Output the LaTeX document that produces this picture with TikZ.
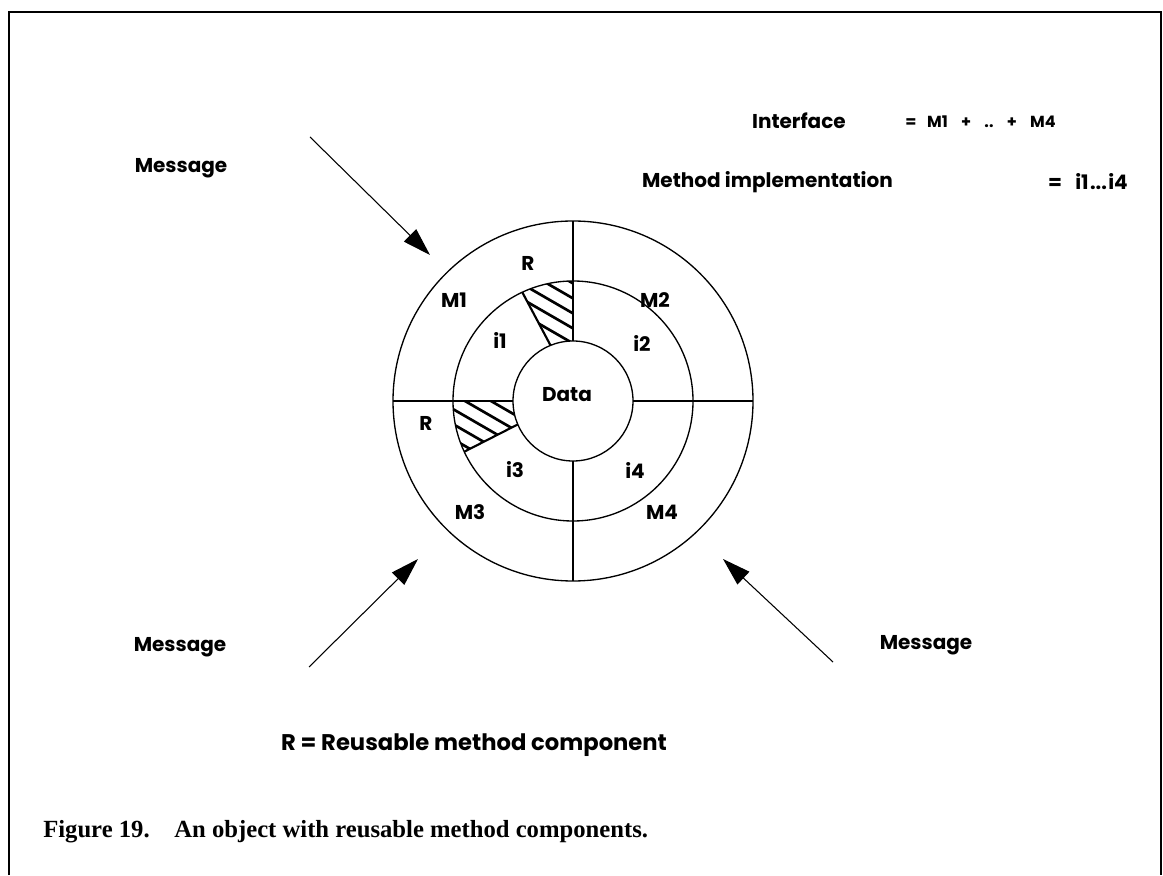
\documentclass[tikz,border=0pt]{standalone}
\usepackage{fontspec}
\setmainfont{Liberation Serif}
\newfontfamily\lbl{Poppins}
\usetikzlibrary{arrows.meta,calc}
\begin{document}
\begin{tikzpicture}[x=0.75pt,y=0.75pt,
  ring/.style={line width=1pt},
  hatch/.style={line width=2pt},
  msgarrow/.style={line width=0.8pt,-{Triangle[length=21pt,width=13pt]}},
  lab/.style={font=\lbl\bfseries\fontsize{15}{17}\selectfont, inner sep=0pt},
  small/.style={font=\lbl\bfseries\fontsize{12}{14}\selectfont, inner sep=0pt}]
\useasboundingbox (0,0) rectangle (1163,875);
% open frame
\draw[line width=2.2pt] (9,0) -- (9,863) -- (1161,863) -- (1161,0);

% centre of the object
\coordinate (c) at (573,474);

% hatched reusable components
\begin{scope}
  \clip (573,594) arc (90:115:120) -- ($(c)+(112:60)$) arc (112:90:60) -- cycle;
  \foreach \k in {-20,...,30}
    \draw[hatch] ({573-160},{474+\k*15}) -- ({573+160},{474+\k*15-184.8});
\end{scope}
\begin{scope}
  \clip (453,474) arc (180:205:120) -- ($(c)+(203:60)$) arc (203:180:60) -- cycle;
  \foreach \k in {-20,...,30}
    \draw[hatch] ({573-160},{474+\k*15}) -- ({573+160},{474+\k*15-184.8});
\end{scope}
\draw[line width=1.6pt] ($(c)+(115:120)$) -- ($(c)+(112:60)$);
\draw[line width=1.6pt] ($(c)+(205:120)$) -- ($(c)+(203:60)$);

% rings
\draw[ring] (c) circle (180);
\draw[ring] (c) circle (120);
\draw[ring] (c) circle (60);
% quadrant dividers
\draw[ring] (573,654) -- (573,534);
\draw[ring] (573,414) -- (573,294);
\draw[ring] (393,474) -- (513,474);
\draw[ring] (633,474) -- (753,474);

% ring labels
\node[lab] (data) at (567,480) {Data};
\node[lab] (r1) at (528,612) {R};
\node[lab] (m1) at (454,575) {M1};
\node[lab] (i1) at (500,535) {i1};
\node[lab] (m2) at (655,575) {M2};
\node[lab] (i2) at (642,532) {i2};
\node[lab] (r2) at (426,452) {R};
\node[lab] (i3) at (515,405) {i3};
\node[lab] (i4) at (635,405) {i4};
\node[lab] (m3) at (470,363) {M3};
\node[lab] (m4) at (662,363) {M4};

% messages
\node[lab] (msg1) at (181,707) {Message};
\node[lab] (msg2) at (180,228) {Message};
\node[lab] (msg3) at (926,230) {Message};
\coordinate (a1s) at (310,738);
\coordinate (a1e) at (430,620);
\coordinate (a2s) at (309,208);
\coordinate (a2e) at (418,316);
\coordinate (a3s) at (833,213);
\coordinate (a3e) at (723,316);
\draw[msgarrow] (a1s) -- (a1e);
\draw[msgarrow] (a2s) -- (a2e);
\draw[msgarrow] (a3s) -- (a3e);

% legend
\node[lab,anchor=east] (iface) at (846,754) {Interface};
\node[small,anchor=west] (ifaceeq) at (905,753)
  {=\hspace{8pt}M1\hspace{10pt}+\hspace{10pt}..\hspace{10pt}+\hspace{10pt}M4};
\node[lab,anchor=east] (impl) at (893,693) {Method implementation};
\node[lab,anchor=east] (impleq) at (1128,693) {=\hspace{10pt}i1\hspace{1pt}...\hspace{1pt}i4};
\node[lab,font=\lbl\bfseries\fontsize{17}{20}\selectfont] (rdef) at (474,130)
  {R = Reusable method component};

% caption
\node[anchor=west,inner sep=0pt,font=\bfseries\fontsize{18.5}{22}\selectfont] (cap) at (43,43)
  {Figure 19.\quad An object with reusable method components.};
\end{tikzpicture}
\end{document}
